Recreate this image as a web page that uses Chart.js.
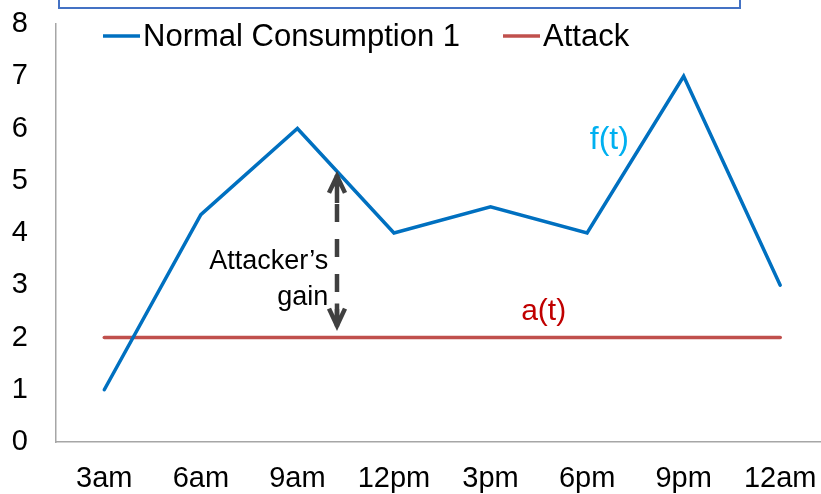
<!DOCTYPE html>
<html>
<head>
<meta charset="utf-8">
<script src="https://cdn.jsdelivr.net/npm/chart.js@4/dist/chart.umd.min.js"></script>
<style>
  html, body { margin: 0; padding: 0; background: #fff; }
  #wrap { width: 821px; height: 494px; overflow: hidden; position: relative; }
  #box { width: 830px; height: 494px; position: absolute; left: 0; top: 0; }
</style>
</head>
<body>
<div id="wrap"><div id="box"><canvas id="c"></canvas></div></div>
<script>
const categories = ['3am', '6am', '9am', '12pm', '3pm', '6pm', '9pm', '12am'];
const normalConsumption = [1, 4.35, 6, 4, 4.5, 4, 7, 3];
const attack = [2, 2, 2, 2, 2, 2, 2, 2];
const yTicks = [0, 1, 2, 3, 4, 5, 6, 7, 8];
const seriesNames = ['Normal Consumption 1', 'Attack'];
const seriesColors = ['#0070C0', '#C0504D'];

// annotation anchors in data units (category index, value)
const fLabel = { text: 'f(t)', x: 5.23, y: 5.77, color: '#00B0F0' };
const aLabel = { text: 'a(t)', x: 4.55, y: 2.5, color: '#C00000' };
const gainLabel = { lines: ["Attacker\u2019s", 'gain'], x: 2.32, y: [3.31, 2.63] };
const gainArrow = { x: 2.41, top: 5.15, bottom: 2.17 };

const FONT = '"Liberation Sans", Arial, sans-serif';

const overlay = {
  id: 'overlay',
  afterDraw(chart) {
    const ctx = chart.ctx;
    const xs = chart.scales.x, ys = chart.scales.y;
    ctx.save();
    // cut-off frame at top
    ctx.strokeStyle = '#4472C4';
    ctx.lineWidth = 2;
    ctx.strokeRect(59, -10, 681, 18);

    // legend
    ctx.font = '31px ' + FONT;
    ctx.textBaseline = 'middle';
    ctx.textAlign = 'left';
    const legendItems = [{ x: 103 }, { x: 503 }];
    legendItems.forEach((it, i) => {
      ctx.strokeStyle = seriesColors[i];
      ctx.lineWidth = 3.5;
      ctx.beginPath();
      ctx.moveTo(it.x, 36);
      ctx.lineTo(it.x + 37, 36);
      ctx.stroke();
      ctx.fillStyle = '#000';
      ctx.fillText(seriesNames[i], it.x + 40, 37);
    });

    // f(t), a(t)
    ctx.textAlign = 'center';
    ctx.font = '32px ' + FONT;
    ctx.fillStyle = fLabel.color;
    ctx.fillText(fLabel.text, xs.getPixelForValue(fLabel.x), ys.getPixelForValue(fLabel.y));
    ctx.font = '30px ' + FONT;
    ctx.fillStyle = aLabel.color;
    ctx.fillText(aLabel.text, xs.getPixelForValue(aLabel.x), ys.getPixelForValue(aLabel.y));

    // Attacker's gain
    ctx.font = '27px ' + FONT;
    ctx.fillStyle = '#000';
    ctx.textAlign = 'right';
    ctx.textBaseline = 'alphabetic';
    gainLabel.lines.forEach((t, i) => {
      ctx.fillText(t, xs.getPixelForValue(gainLabel.x), ys.getPixelForValue(gainLabel.y[i]));
    });

    // dashed double arrow
    const ax = xs.getPixelForValue(gainArrow.x);
    const yt = ys.getPixelForValue(gainArrow.top);
    const yb = ys.getPixelForValue(gainArrow.bottom);
    ctx.strokeStyle = '#404040';
    ctx.lineWidth = 4.5;
    ctx.lineCap = 'butt';
    ctx.setLineDash([18, 17]);
    ctx.lineDashOffset = -29;
    ctx.beginPath();
    ctx.moveTo(ax, yt + 2);
    ctx.lineTo(ax, yb - 2);
    ctx.stroke();
    ctx.setLineDash([]);
    ctx.lineJoin = 'miter';
    ctx.beginPath();
    ctx.moveTo(ax - 8, yt + 20);
    ctx.lineTo(ax, yt + 3);
    ctx.lineTo(ax + 8, yt + 20);
    ctx.moveTo(ax, yt + 3);
    ctx.lineTo(ax, yt + 30);
    ctx.stroke();
    ctx.beginPath();
    ctx.moveTo(ax - 8, yb - 20);
    ctx.lineTo(ax, yb - 3);
    ctx.lineTo(ax + 8, yb - 20);
    ctx.moveTo(ax, yb - 3);
    ctx.lineTo(ax, yb - 25);
    ctx.stroke();
    ctx.restore();
  }
};

new Chart(document.getElementById('c'), {
  type: 'line',
  data: {
    labels: categories,
    datasets: [
      { label: seriesNames[0], data: normalConsumption, borderColor: seriesColors[0], borderWidth: 3.5,
        pointRadius: 0, tension: 0, borderCapStyle: 'round', borderJoinStyle: 'miter', fill: false },
      { label: seriesNames[1], data: attack, borderColor: seriesColors[1], borderWidth: 3.5,
        pointRadius: 0, tension: 0, borderCapStyle: 'round', fill: false }
    ]
  },
  options: {
    responsive: true,
    maintainAspectRatio: false,
    animation: false,
    events: [],
    layout: { padding: { top: 24, right: 1.5, left: 0, bottom: 0 } },
    plugins: { legend: { display: false }, tooltip: { enabled: false } },
    scales: {
      x: {
        type: 'category',
        offset: true,
        grid: { display: true, drawOnChartArea: false, drawTicks: false },
        border: { color: '#A6A6A6', width: 1.5 },
        ticks: { color: '#000', font: { family: FONT, size: 29 }, padding: 20, maxRotation: 0, autoSkip: false },
        afterFit(s) { s.height = 52; s.paddingLeft = 0; s.paddingRight = 0; }
      },
      y: {
        min: 0, max: 8,
        afterBuildTicks(s) { s.ticks = yTicks.map(v => ({ value: v })); },
        grid: { display: true, drawOnChartArea: false, drawTicks: false },
        border: { color: '#A6A6A6', width: 1.5 },
        ticks: { color: '#000', font: { family: FONT, size: 29 }, padding: 28 },
        afterFit(s) { s.width = 56; s.paddingTop = 0; s.paddingBottom = 0; }
      }
    }
  },
  plugins: [overlay]
});
</script>
</body>
</html>
